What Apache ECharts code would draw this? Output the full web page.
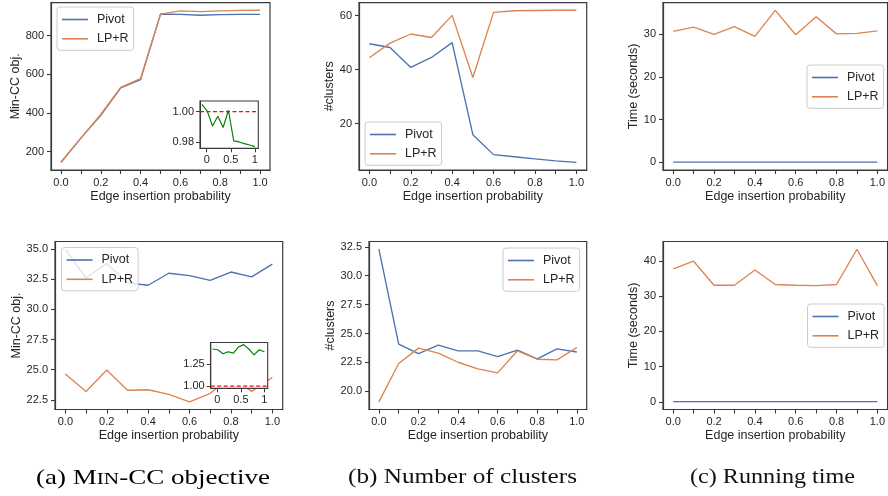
<!DOCTYPE html>
<html>
<head>
<meta charset="utf-8">
<script src="https://cdn.jsdelivr.net/npm/echarts@6/dist/echarts.min.js"></script>
<style>html,body{margin:0;padding:0;background:#fff;}#c{width:888px;height:496px;}</style>
</head>
<body>
<div id="c"></div>
<script>
// ---- data ----
const probs = [0.0, 0.1, 0.2, 0.3, 0.4, 0.5, 0.6, 0.7, 0.8, 0.9, 1.0];
const xTickValues = [0.0, 0.1, 0.2, 0.3, 0.4, 0.5, 0.6, 0.7, 0.8, 0.9, 1.0];
const xLabelValues = [0.0, 0.2, 0.4, 0.6, 0.8, 1.0];
const seriesNames = ['Pivot', 'LP+R'];

// (a) top: Min-CC objective
const objTopPivot = [145, 270, 388, 530, 572, 911, 910, 905, 908, 910, 910];
const objTopLPR   = [144, 270, 392, 532, 578, 911, 928, 924, 928, 930, 931];
const objTopTicks = [200, 400, 600, 800];
// inset: Pivot / LP+R ratio (top)
const insetX = [-0.1, 0.01, 0.12, 0.23, 0.34, 0.45, 0.56, 0.67, 0.78, 0.89, 1.0];
const ratioTop = [1.0048, 1.0004, 0.9905, 0.997, 0.9895, 1.0009, 0.9807, 0.980, 0.9789, 0.978, 0.9769];
const ratioTopTicks = [0.98, 1.00];
const insetXTicks = [0, 0.5, 1];
const refRatio = 1.0;

// (b) top: number of clusters
const cluTopPivot = [49.6, 48.2, 40.8, 44.5, 50.0, 15.9, 8.5, 7.7, 6.9, 6.2, 5.6];
const cluTopLPR   = [44.4, 49.8, 53.2, 51.9, 60.1, 37.1, 61.2, 61.8, 61.9, 62.0, 62.0];
const cluTopTicks = [20, 40, 60];

// (c) top: running time
const timeTopPivot = [0.05, 0.05, 0.05, 0.05, 0.05, 0.05, 0.05, 0.05, 0.05, 0.05, 0.05];
const timeTopLPR   = [30.7, 31.7, 30.0, 31.8, 29.5, 35.6, 29.9, 34.1, 30.1, 30.2, 30.8];
const timeTopTicks = [0, 10, 20, 30];

// (a) bottom
const objBotPivot = [35.0, 32.6, 33.8, 32.2, 32.0, 33.0, 32.8, 32.4, 33.1, 32.7, 33.75];
const objBotLPR   = [24.65, 23.2, 24.97, 23.3, 23.34, 22.96, 22.33, 23.04, 24.4, 23.2, 24.35];
const objBotTicks = [22.5, 25.0, 27.5, 30.0, 32.5, 35.0];
const ratioBot = [1.417, 1.409, 1.364, 1.386, 1.371, 1.439, 1.466, 1.417, 1.352, 1.409, 1.386];
const ratioBotTicks = [1.00, 1.25];

// (b) bottom
const cluBotPivot = [32.3, 24.07, 23.26, 24.0, 23.5, 23.5, 23.0, 23.55, 22.8, 23.67, 23.4];
const cluBotLPR   = [19.08, 22.4, 23.73, 23.3, 22.51, 21.94, 21.59, 23.5, 22.77, 22.72, 23.78];
const cluBotTicks = [20.0, 22.5, 25.0, 27.5, 30.0, 32.5];

// (c) bottom
const timeBotPivot = [0.05, 0.05, 0.05, 0.05, 0.05, 0.05, 0.05, 0.05, 0.05, 0.05, 0.05];
const timeBotLPR   = [37.7, 39.9, 33.1, 33.1, 37.4, 33.3, 33.1, 33.0, 33.3, 43.3, 33.0];
const timeBotTicks = [0, 10, 20, 30, 40];

const captions = ['(b) Number of clusters', '(c) Running time'];

// ---- styling ----
const FONT = 'Liberation Sans';
const INK = '#262626';
const SPINE = '#3a3a3a';
const C_PIVOT = '#4c72b0';
const C_LPR = '#dd8452';

const grids = [], xAxes = [], yAxes = [], series = [], legends = [];

function addPanel(p) {
  const gi = grids.length;
  grids.push({left: p.left, top: p.top, width: p.width, height: p.height,
    show: true, borderColor: SPINE, borderWidth: 1.2, backgroundColor: '#fff', containLabel: false});
  xAxes.push({type: 'value', gridIndex: gi, min: -0.05, max: 1.05,
    name: 'Edge insertion probability', nameLocation: 'middle', nameGap: 20,
    nameTextStyle: {fontFamily: FONT, fontSize: 12.5, color: INK, verticalAlign: 'top'},
    axisLine: {show: true, onZero: false, lineStyle: {color: SPINE, width: 1.2}},
    axisTick: {show: true, length: 4, lineStyle: {color: SPINE, width: 1.1}, customValues: xTickValues},
    axisLabel: {customValues: xLabelValues, margin: 7, fontFamily: FONT, fontSize: 11, color: INK,
      formatter: v => v.toFixed(1)},
    splitLine: {show: false}});
  yAxes.push({type: 'value', gridIndex: gi, min: p.yMin, max: p.yMax,
    name: p.yName, nameLocation: 'middle', nameGap: p.nameGap,
    nameTextStyle: {fontFamily: FONT, fontSize: 12.5, color: INK},
    axisLine: {show: true, onZero: false, lineStyle: {color: SPINE, width: 1.2}},
    axisTick: {show: true, length: 4, lineStyle: {color: SPINE, width: 1.1}, customValues: p.yTicks},
    axisLabel: {customValues: p.yTicks, margin: 7, fontFamily: FONT, fontSize: 11, color: INK,
      formatter: v => v.toFixed(p.dec)},
    splitLine: {show: false}});
  const mk = (name, data, color) => ({
    type: 'line', name: name, xAxisIndex: gi, yAxisIndex: gi, showSymbol: false, symbol: 'none',
    animation: false, lineStyle: {color: color, width: 1.35}, itemStyle: {color: color}, z: 2,
    data: probs.map((x, i) => [x, data[i]])
  });
  series.push(mk(seriesNames[0], p.pivot, C_PIVOT));
  series.push(mk(seriesNames[1], p.lpr, C_LPR));
  legends.push({data: seriesNames.slice(), left: p.legLeft, top: p.legTop, orient: 'vertical',
    icon: 'rect', itemWidth: 26, itemHeight: 1.6, itemGap: 4.3,
    padding: [5, 5, 4, 5], backgroundColor: 'rgba(255,255,255,0.8)',
    borderColor: '#cccccc', borderWidth: 1, borderRadius: 3, selectedMode: false,
    textStyle: {fontFamily: FONT, fontSize: 12.5, color: INK, lineHeight: 15, padding: [0, 0, 0, 4]}});
}

function addInset(p) {
  const gi = grids.length;
  grids.push({left: p.left, top: p.top, width: p.width, height: p.height, z: 5,
    show: true, borderColor: SPINE, borderWidth: 1.1, backgroundColor: '#fff'});
  xAxes.push({type: 'value', gridIndex: gi, min: p.xMin, max: p.xMax, z: 6,
    axisLine: {show: true, onZero: false, lineStyle: {color: SPINE, width: 1.1}},
    axisTick: {show: true, length: 4, lineStyle: {color: SPINE}, customValues: insetXTicks},
    axisLabel: {customValues: insetXTicks, margin: 6, fontFamily: FONT, fontSize: 11, color: INK,
      formatter: v => String(v)},
    splitLine: {show: false}});
  yAxes.push({type: 'value', gridIndex: gi, min: p.yMin, max: p.yMax, z: 6,
    axisLine: {show: true, onZero: false, lineStyle: {color: SPINE, width: 1.1}},
    axisTick: {show: true, length: 4, lineStyle: {color: SPINE}, customValues: p.yTicks},
    axisLabel: {customValues: p.yTicks, margin: 6, fontFamily: FONT, fontSize: 11, color: INK,
      formatter: v => v.toFixed(2)},
    splitLine: {show: false}});
  // red dashed reference line at ratio 1 across the inset
  series.push({type: 'line', xAxisIndex: gi, yAxisIndex: gi, showSymbol: false, symbol: 'none',
    animation: false, z: 7, silent: true, lineStyle: {color: '#ff0000', type: [4, 2.5], width: 1.2},
    itemStyle: {color: '#ff0000'},
    data: [[p.xMin, refRatio], [p.xMax, refRatio]]});
  series.push({type: 'line', xAxisIndex: gi, yAxisIndex: gi, showSymbol: false, symbol: 'none',
    animation: false, z: 8, lineStyle: {color: '#008000', width: 1.15}, itemStyle: {color: '#008000'},
    data: insetX.map((x, i) => [x, p.ratio[i]])});
}

const TOP = 2.7, H1 = 167.3, TOP2 = 241.5, H2 = 168;
addPanel({left: 51, top: TOP, width: 219, height: H1, yMin: 105, yMax: 970, yTicks: objTopTicks, dec: 0,
  yName: 'Min-CC obj.', nameGap: 28.5, pivot: objTopPivot, lpr: objTopLPR, legLeft: 57, legTop: 7});
addPanel({left: 359, top: TOP, width: 227.7, height: H1, yMin: 2.8, yMax: 64.8, yTicks: cluTopTicks, dec: 0,
  yName: '#clusters', nameGap: 19.5, pivot: cluTopPivot, lpr: cluTopLPR, legLeft: 365, legTop: 122});
addPanel({left: 663, top: TOP, width: 227, height: H1, yMin: -1.78, yMax: 37.4, yTicks: timeTopTicks, dec: 0,
  yName: 'Time (seconds)', nameGap: 19.5, pivot: timeTopPivot, lpr: timeTopLPR, legLeft: 807, legTop: 65});
addPanel({left: 55, top: TOP2, width: 227.7, height: H2, yMin: 21.7, yMax: 35.63, yTicks: objBotTicks, dec: 1,
  yName: 'Min-CC obj.', nameGap: 30.5, pivot: objBotPivot, lpr: objBotLPR, legLeft: 61.5, legTop: 247.5});
addPanel({left: 369, top: TOP2, width: 217.7, height: H2, yMin: 18.42, yMax: 32.96, yTicks: cluBotTicks, dec: 1,
  yName: '#clusters', nameGap: 29.5, pivot: cluBotPivot, lpr: cluBotLPR, legLeft: 503, legTop: 248});
addPanel({left: 663, top: TOP2, width: 227, height: H2, yMin: -2.17, yMax: 45.5, yTicks: timeBotTicks, dec: 0,
  yName: 'Time (seconds)', nameGap: 20, pivot: timeBotPivot, lpr: timeBotLPR, legLeft: 807.5, legTop: 304});
addInset({left: 200, top: 101, width: 58.3, height: 47.3, xMin: -0.14, xMax: 1.07,
  yMin: 0.9758, yMax: 1.007, yTicks: ratioTopTicks, ratio: ratioTop});
addInset({left: 210.7, top: 342.5, width: 57, height: 45.8, xMin: -0.14, xMax: 1.07,
  yMin: 0.976, yMax: 1.49, yTicks: ratioBotTicks, ratio: ratioBot});

// ---- captions (serif, stretched to the reference widths) ----
const CAP_FONT = 'Liberation Serif';
const CAP_SIZE = 21, SC_SIZE = 16.5;
const mctx = document.createElement('canvas').getContext('2d');
function tw(t, size) { mctx.font = size + 'px "' + CAP_FONT + '"'; return mctx.measureText(t).width; }
const wA = tw('(a) M', CAP_SIZE) + tw('IN', SC_SIZE) + tw('-CC objective', CAP_SIZE);
const wB = tw(captions[0], CAP_SIZE);
const wC = tw(captions[1], CAP_SIZE);
const capY = 465;
const graphic = [
  {type: 'text', x: 36, y: capY, scaleX: 234 / wA, style: {
    text: '{n|(a) M}{s|IN}{n|-CC objective}', x: 0, y: 0, textVerticalAlign: 'top',
    rich: {n: {fontFamily: CAP_FONT, fontSize: CAP_SIZE, color: '#111', verticalAlign: 'bottom', lineHeight: 24},
           s: {fontFamily: CAP_FONT, fontSize: SC_SIZE, color: '#111', verticalAlign: 'bottom', lineHeight: 24, padding: [0,0,1,0]}}}},
  {type: 'text', x: 348, y: capY, scaleX: 229 / wB, style: {text: captions[0], x: 0, y: 0,
    fontFamily: CAP_FONT, fontSize: CAP_SIZE, fill: '#111', lineHeight: 24, verticalAlign: 'top'}},
  {type: 'text', x: 690, y: capY, scaleX: 165 / wC, style: {text: captions[1], x: 0, y: 0,
    fontFamily: CAP_FONT, fontSize: CAP_SIZE, fill: '#111', lineHeight: 24, verticalAlign: 'top'}}
];

const chart = echarts.init(document.getElementById('c'), null, {renderer: 'canvas'});
chart.setOption({animation: false, backgroundColor: '#fff', grid: grids, xAxis: xAxes, yAxis: yAxes,
  series: series, legend: legends, graphic: graphic});
</script>
</body>
</html>
